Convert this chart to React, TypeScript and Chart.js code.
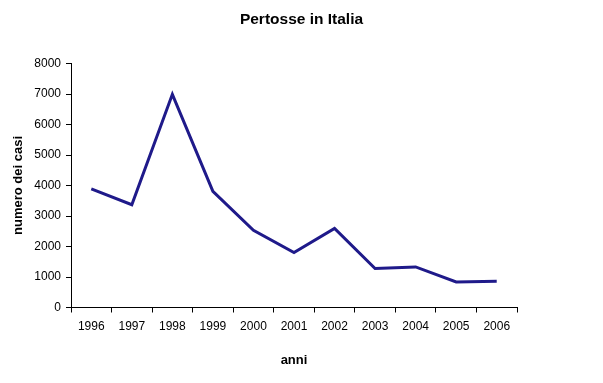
import React, { useEffect, useRef } from "react";
import { Chart, registerables } from "chart.js";

Chart.register(...registerables);

const years = ["1996", "1997", "1998", "1999", "2000", "2001", "2002", "2003", "2004", "2005", "2006"];
const casi = [3890, 3370, 6990, 3810, 2530, 1800, 2590, 1280, 1330, 840, 860];
const yTicks = [0, 1000, 2000, 3000, 4000, 5000, 6000, 7000, 8000];

const FONT = "'Liberation Sans', Arial, sans-serif";

const centerTitle = {
  id: "centerTitle",
  afterLayout(chart: any) {
    const t = chart.titleBlock;
    if (t) {
      t.left = 0;
      t.right = chart.width;
      t.width = chart.width;
    }
  },
};

export default function App() {
  const ref = useRef<HTMLCanvasElement | null>(null);
  useEffect(() => {
    if (!ref.current) return;
    const chart = new Chart(ref.current, {
      type: "line",
      data: {
        labels: years,
        datasets: [
          {
            data: casi,
            borderColor: "#1f1a8a",
            backgroundColor: "#1f1a8a",
            borderWidth: 3,
            pointRadius: 0,
            tension: 0,
            fill: false,
          },
        ],
      },
      plugins: [centerTitle],
      options: {
        responsive: false,
        animation: false,
        layout: { padding: { left: 0, right: 86, top: 0, bottom: 0 } },
        plugins: {
          legend: { display: false },
          tooltip: { enabled: false },
          title: {
            display: true,
            text: "Pertosse in Italia",
            color: "#000",
            font: { family: FONT, size: 15.5, weight: "bold" },
            padding: { top: 10.7, bottom: 34.2 },
          },
        },
        scales: {
          x: {
            type: "category",
            offset: true,
            afterFit: (s: any) => {
              s.height = 75.5;
            },
            grid: {
              offset: true,
              drawOnChartArea: false,
              drawTicks: true,
              tickLength: 5,
              tickColor: "#000",
              color: "#000",
            },
            border: { color: "#000", width: 1 },
            ticks: {
              color: "#000",
              font: { family: FONT, size: 12 },
              padding: 7,
              maxRotation: 0,
              autoSkip: false,
            },
            title: {
              display: true,
              text: "anni",
              color: "#000",
              font: { family: FONT, size: 13, weight: "bold" },
              padding: { top: 0, bottom: 14.7 },
            },
          },
          y: {
            min: 0,
            max: 8000,
            afterFit: (s: any) => {
              s.width = 71;
            },
            afterBuildTicks: (s: any) => {
              s.ticks = yTicks.map((v) => ({ value: v }));
            },
            grid: {
              drawOnChartArea: false,
              drawTicks: true,
              tickLength: 5,
              tickColor: "#000",
              color: "#000",
            },
            border: { color: "#000", width: 1 },
            ticks: {
              color: "#000",
              font: { family: FONT, size: 12 },
              padding: 5,
              callback: (v: any) => String(v),
            },
            title: {
              display: true,
              text: "numero dei casi",
              color: "#000",
              font: { family: FONT, size: 13, weight: "bold" },
              padding: { top: 10.4, bottom: 0 },
            },
          },
        },
      },
    });
    return () => chart.destroy();
  }, []);
  return (
    <div style={{ position: "absolute", left: 0, top: 0, width: 603, height: 383, background: "#fff" }}>
      <canvas ref={ref} width={603} height={383} />
    </div>
  );
}
